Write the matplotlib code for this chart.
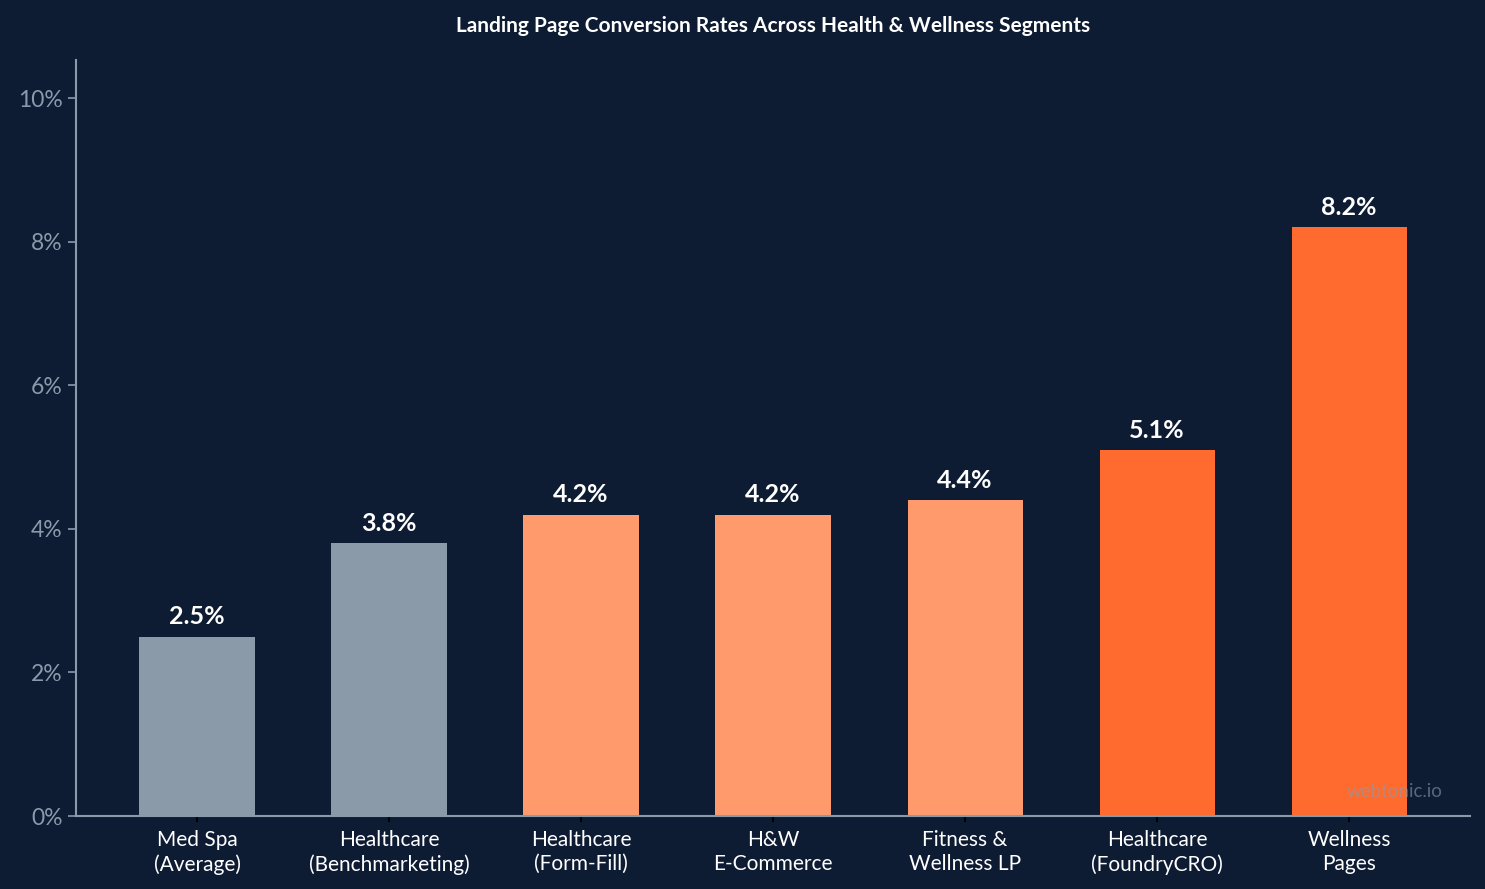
import matplotlib
matplotlib.use("Agg")
import matplotlib.pyplot as plt
from matplotlib.ticker import FuncFormatter

plt.rcParams['font.family'] = ['Lato', 'DejaVu Sans']

# data
categories = ["Med Spa\n(Average)", "Healthcare\n(Benchmarketing)", "Healthcare\n(Form-Fill)",
              "H&W\nE-Commerce", "Fitness &\nWellness LP", "Healthcare\n(FoundryCRO)", "Wellness\nPages"]
rates = [2.5, 3.8, 4.2, 4.2, 4.4, 5.1, 8.2]
bar_colors = ["#8a9aa9", "#8a9aa9", "#ff9a6c", "#ff9a6c", "#ff9a6c", "#ff6b2e", "#ff6b2e"]
y_ticks = [0, 2, 4, 6, 8, 10]

bg = "#0d1b33"
axis_grey = "#8a9aab"

fig, ax = plt.subplots(figsize=(14.85, 8.89), dpi=100)
fig.patch.set_facecolor(bg)
ax.set_facecolor(bg)
fig.subplots_adjust(left=0.0512, right=0.99, bottom=0.082, top=0.9325)

x = range(len(categories))
bars = ax.bar(x, rates, width=0.6, color=bar_colors, zorder=2)

for b, v in zip(bars, rates):
    ax.annotate(f"{v:.1f}%", (b.get_x() + b.get_width() / 2, v),
                xytext=(0, 6), textcoords="offset points",
                ha="center", va="bottom", color="white",
                fontsize=18, fontweight="bold")

ax.set_ylim(0, 10.53)
ax.set_yticks(y_ticks)
ax.yaxis.set_major_formatter(FuncFormatter(lambda v, p: f"{v:.0f}%"))
ax.set_xticks(list(x))
ax.set_xticklabels(categories, fontsize=15, color="white", linespacing=1.25)

ax.tick_params(axis="y", colors=axis_grey, labelsize=16.5, length=6, width=1.2)
ax.tick_params(axis="x", color="#000000", length=4, width=1.5, pad=6)

for s in ["top", "right"]:
    ax.spines[s].set_visible(False)
for s in ["left", "bottom"]:
    ax.spines[s].set_color(axis_grey)
    ax.spines[s].set_linewidth(1.5)

ax.set_title("Landing Page Conversion Rates Across Health & Wellness Segments",
             color="white", fontsize=15, fontweight="bold", pad=20)

ax.text(0.946, 0.033, "webtonic.io", transform=ax.transAxes, ha="center", va="center",
        color=axis_grey, alpha=0.6, fontsize=13.5, zorder=3)

fig.savefig("out.png", dpi=100, facecolor=bg)
